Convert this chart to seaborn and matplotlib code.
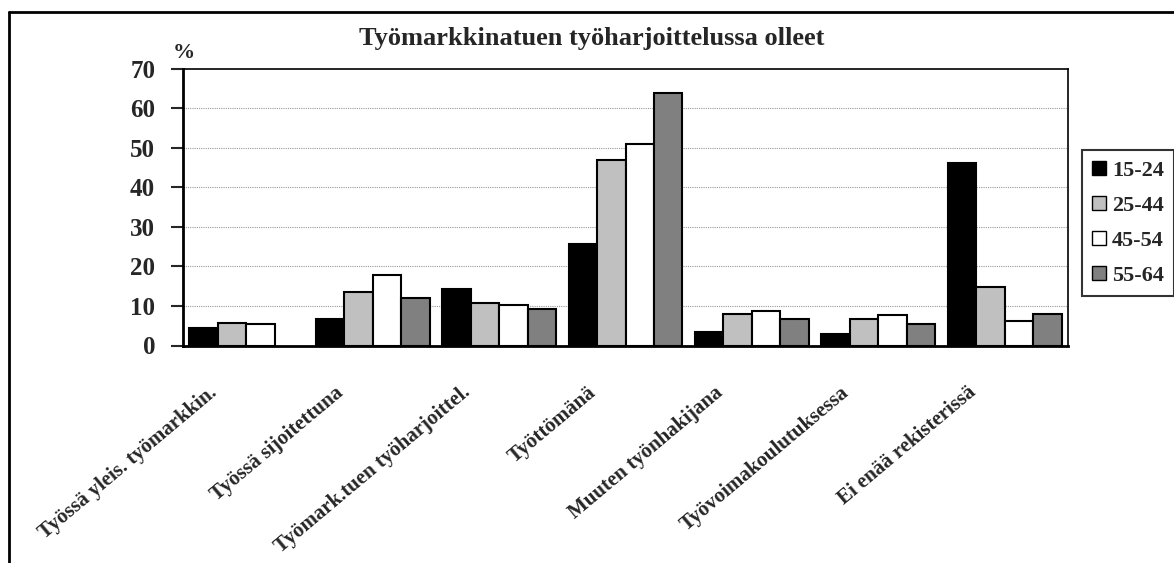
import numpy as np
import pandas as pd
import matplotlib
matplotlib.use("Agg")
import matplotlib.pyplot as plt
import matplotlib.transforms as mtransforms
import seaborn as sns
from matplotlib.lines import Line2D

categories = ["Työssä yleis. työmarkkin.", "Työssä sijoitettuna",
              "Työmark.tuen työharjoittel.", "Työttömänä", "Muuten työnhakijana",
              "Työvoimakoulutuksessa", "Ei enää rekisterissä"]
ages = ["15-24", "25-44", "45-54", "55-64"]
v_15_24 = [4.5, 6.7, 14.4, 25.7, 3.3, 2.8, 46.0]
v_25_44 = [5.7, 13.4, 10.7, 46.9, 8.0, 6.7, 14.9]
v_45_54 = [5.4, 17.8, 10.3, 50.8, 8.8, 7.6, 6.3]
v_55_64 = [0.0, 12.0, 9.3, 63.8, 6.7, 5.4, 8.0]
colors = ["#000000", "#C0C0C0", "#FFFFFF", "#808080"]

rows = []
for age, vals in zip(ages, [v_15_24, v_25_44, v_45_54, v_55_64]):
    for cat, v in zip(categories, vals):
        rows.append({"cat": cat, "age": age, "val": v})
df = pd.DataFrame(rows)

sns.set_style("white")
plt.rcParams["font.family"] = ["Liberation Serif", "DejaVu Serif"]
plt.rcParams["font.weight"] = "bold"

fig = plt.figure(figsize=(11.74, 5.63), dpi=100)
ax = fig.add_axes([183 / 1174, 1 - 345.5 / 563, (1068 - 183) / 1174, 277 / 563])

sns.barplot(data=df, x="cat", y="val", hue="age", palette=colors,
            edgecolor="black", linewidth=1.5, width=0.9, ax=ax, legend=False)
for p in ax.patches:
    if p.get_height() == 0:
        p.set_visible(False)

ax.set_ylim(0, 70)
ax.set_xlim(-0.5, 6.5)
ax.set_yticks(range(0, 80, 10))
ax.set_yticklabels([str(t) for t in range(0, 80, 10)], fontsize=18, fontweight="bold")
for y in range(10, 70, 10):
    ax.axhline(y, color="#999999", linestyle=(0, (1, 1)), linewidth=0.8, zorder=0)

# boundary ticks, labels drawn as rotated texts
ax.set_xticks(np.arange(-0.5, 7, 1))
ax.set_xticklabels([])
shift = mtransforms.ScaledTranslation(-38 / 100, -37 / 100, fig.dpi_scale_trans)
for i, cat in enumerate(categories):
    ax.text(i, 0, cat, transform=ax.transData + shift, rotation=40,
            ha="right", va="top", rotation_mode="anchor",
            fontsize=15, fontweight="bold")
ax.tick_params(axis="x", which="major", direction="inout", length=9, width=1.5)
ax.tick_params(axis="y", direction="out", length=9, width=1.5, left=True, pad=11)
ax.set_xlabel("")
ax.set_ylabel("")
for s in ax.spines.values():
    s.set_color("black")
    s.set_linewidth(1.2)
ax.spines["left"].set_linewidth(2)
ax.spines["bottom"].set_linewidth(2)

fig.text(592 / 1174, 1 - 38 / 563, "Työmarkkinatuen työharjoittelussa olleet",
         ha="center", va="center", fontsize=19, fontweight="bold")
fig.text(184 / 1174, 1 - 53 / 563, "%", ha="center", va="center",
         fontsize=16, fontweight="bold")

handles = [Line2D([], [], marker="s", linestyle="none", markersize=10,
                  markerfacecolor=c, markeredgecolor="black", markeredgewidth=1)
           for c in colors]
leg = fig.legend(handles, ages, loc="upper left",
                 bbox_to_anchor=(1082 / 1174, 1 - 150 / 563), borderaxespad=0,
                 frameon=True, fancybox=False, handlelength=0.6,
                 handletextpad=0.3, labelspacing=0.65, borderpad=0.45,
                 prop={"size": 16, "weight": "bold"})
leg.get_frame().set_edgecolor("black")
leg.get_frame().set_linewidth(1.5)

fig.add_artist(Line2D([9 / 1174, 9 / 1174], [0, 1 - 12 / 563], color="black",
                      linewidth=2, transform=fig.transFigure))
fig.add_artist(Line2D([9 / 1174, 1], [1 - 12 / 563, 1 - 12 / 563], color="black",
                      linewidth=2, transform=fig.transFigure))

fig.savefig("out.png", dpi=100)
